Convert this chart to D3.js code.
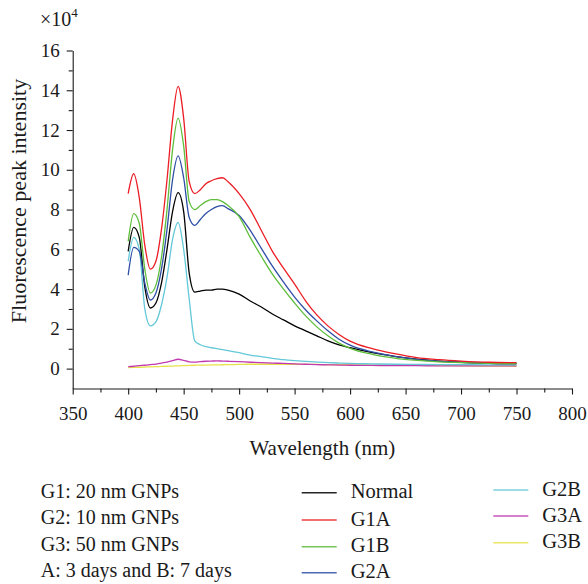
<!DOCTYPE html>
<html>
<head>
<meta charset="utf-8">
<script src="https://cdn.jsdelivr.net/npm/d3@7"></script>
<style>
  html, body { margin: 0; padding: 0; background: #fff; }
  svg, svg text { font-family: 'Liberation Serif', 'DejaVu Serif', 'Times New Roman', serif !important; }
</style>
</head>
<body>
<svg id="chart" width="588" height="584"></svg>
<script>
// ---- data ----
const wavelengths = [400,405,410,415,420,425,430,435,440,445,450,455,460,465,470,475,480,485,490,500,510,520,530,540,550,560,570,580,590,600,620,640,660,680,700,725,750];

const normal = [5.9,7.1,6.6,4.1,3.05,3.3,4.3,6.0,7.9,8.85,7.9,4.8,3.85,3.9,3.95,3.95,4.0,4.0,3.95,3.75,3.4,3.1,2.75,2.45,2.15,1.9,1.65,1.4,1.2,1.05,0.8,0.62,0.48,0.38,0.32,0.27,0.25];
const g1a    = [8.8,9.8,8.6,6.2,5.0,5.4,7.0,9.5,12.5,14.2,12.6,9.4,8.8,9.0,9.3,9.45,9.55,9.6,9.4,8.8,8.0,6.95,5.9,5.05,4.25,3.4,2.7,2.15,1.72,1.38,1.0,0.75,0.55,0.45,0.38,0.32,0.3];
const g1b    = [6.4,7.8,7.3,5.0,3.8,4.2,5.6,8.0,11.0,12.6,11.2,8.4,8.0,8.2,8.4,8.5,8.5,8.4,8.2,7.65,6.6,5.65,4.75,4.0,3.3,2.65,2.1,1.65,1.28,1.02,0.72,0.53,0.41,0.34,0.3,0.27,0.25];
const g2a    = [4.7,6.1,5.9,4.3,3.45,3.8,5.0,7.0,9.5,10.7,9.6,7.6,7.2,7.5,7.8,8.0,8.15,8.2,8.05,7.7,6.95,6.05,5.15,4.35,3.6,2.95,2.4,1.9,1.48,1.18,0.84,0.62,0.47,0.38,0.32,0.28,0.26];
const g2b    = [5.4,6.6,6.0,3.0,2.15,2.35,3.2,4.6,6.5,7.35,6.0,3.5,1.4,1.2,1.1,1.05,1.0,0.95,0.9,0.8,0.68,0.6,0.52,0.45,0.4,0.36,0.33,0.3,0.28,0.26,0.24,0.22,0.21,0.2,0.2,0.19,0.19];
const g3a    = [0.1,0.12,0.15,0.17,0.2,0.23,0.28,0.33,0.4,0.47,0.42,0.34,0.33,0.35,0.37,0.38,0.39,0.38,0.37,0.35,0.32,0.3,0.28,0.26,0.24,0.22,0.2,0.19,0.18,0.17,0.16,0.15,0.15,0.14,0.14,0.14,0.14];
const g3b    = [0.05,0.06,0.07,0.08,0.09,0.1,0.11,0.12,0.13,0.14,0.15,0.16,0.17,0.175,0.18,0.185,0.19,0.195,0.2,0.21,0.22,0.22,0.22,0.22,0.22,0.21,0.21,0.2,0.2,0.19,0.18,0.17,0.16,0.15,0.14,0.13,0.12];

const seriesNames  = ["Normal","G1A","G1B","G2A","G2B","G3A","G3B"];
const seriesValues = [normal, g1a, g1b, g2a, g2b, g3a, g3b];
const seriesColors = ["#000000","#ec1c24","#5dbd3a","#2f4ea5","#63c8d8","#c13ab0","#e8e24a"];

const xTicks = [350,400,450,500,550,600,650,700,750,800];
const xMinor = [375,425,475,525,575,625,675,725,775];
const yTicks = [0,2,4,6,8,10,12,14,16];
const yMinor = [1,3,5,7,9,11,13,15];

const notes = ["G1: 20 nm GNPs","G2: 10 nm GNPs","G3: 50 nm GNPs","A: 3 days and B: 7 days"];

// ---- drawing ----
const FONT = "'Liberation Serif', 'DejaVu Serif', 'Times New Roman', serif";
const svg = d3.select("#chart");
const x = d3.scaleLinear().domain([350, 800]).range([72.7, 572]);
const y = d3.scaleLinear().domain([-1, 16]).range([388.5, 50.5]);

// x axis
const gx = svg.append("g").attr("transform", `translate(0,${y(-1)})`);
gx.call(d3.axisBottom(x).tickValues(xTicks).tickSize(6).tickSizeOuter(0).tickPadding(12).tickFormat(d3.format("d")));
gx.append("g").call(d3.axisBottom(x).tickValues(xMinor).tickSize(4).tickFormat(""))
  .select(".domain").remove();

// y axis
const gy = svg.append("g").attr("transform", `translate(${x(350)},0)`);
gy.call(d3.axisLeft(y).tickValues(yTicks).tickSize(6).tickSizeOuter(0).tickPadding(7).tickFormat(d3.format("d")));
gy.append("g").call(d3.axisLeft(y).tickValues(yMinor).tickSize(4).tickFormat(""))
  .select(".domain").remove();

svg.selectAll("g").attr("font-family", FONT);
svg.selectAll(".tick text").attr("font-size", "19px").style("font-family", FONT).attr("fill", "#1a1a1a");
svg.selectAll(".domain, .tick line").attr("stroke", "#1a1a1a").attr("stroke-width", 1.1);

// axis titles
svg.append("text").attr("x", x(575)).attr("y", 448).attr("text-anchor", "middle")
  .attr("dominant-baseline", "central").attr("font-size", "21px").attr("fill", "#1a1a1a")
  .style("font-family", FONT).text("Wavelength (nm)");
svg.append("text").attr("transform", "translate(18,201) rotate(-90)").attr("text-anchor", "middle")
  .attr("dominant-baseline", "central").attr("font-size", "22px").attr("fill", "#1a1a1a")
  .style("font-family", FONT).text("Fluorescence peak intensity");
const mult = svg.append("text").attr("x", 40).attr("y", 26).attr("font-size", "20px")
  .attr("fill", "#1a1a1a").style("font-family", FONT);
mult.append("tspan").text("\u00d710");
mult.append("tspan").attr("font-size", "13px").attr("dy", -9).text("4");

// lines
const line = d3.line().x((d, i) => x(wavelengths[i])).y(d => y(d)).curve(d3.curveMonotoneX);
const drawOrder = [6,5,4,0,3,2,1];
drawOrder.forEach(k => {
  svg.append("path").datum(seriesValues[k]).attr("d", line)
    .attr("fill", "none").attr("stroke", seriesColors[k]).attr("stroke-width", 1.3)
    .attr("stroke-linejoin", "round");
});

// notes
notes.forEach((t, i) => {
  svg.append("text").attr("x", 40.7).attr("y", 490.7 + i * 26.4)
    .attr("dominant-baseline", "central").attr("font-size", "20px").attr("fill", "#1a1a1a")
    .style("font-family", FONT).text(t);
});

// legend
const legPos = [
  {lx: 301.7, ly: 492.7}, {lx: 301.7, ly: 520}, {lx: 301.7, ly: 546.7}, {lx: 301.7, ly: 572.7},
  {lx: 493.3, ly: 490}, {lx: 493.3, ly: 516}, {lx: 493.3, ly: 542.7}
];
seriesNames.forEach((n, i) => {
  const p = legPos[i];
  svg.append("line").attr("x1", p.lx).attr("x2", p.lx + 35).attr("y1", p.ly).attr("y2", p.ly)
    .attr("stroke", seriesColors[i]).attr("stroke-width", 1.6).attr("opacity", 0.85);
  svg.append("text").attr("x", p.lx + 49).attr("y", p.ly - 1.5)
    .attr("dominant-baseline", "central").attr("font-size", "20.5px").attr("fill", "#1a1a1a")
    .style("font-family", FONT).text(n);
});
</script>
</body>
</html>
